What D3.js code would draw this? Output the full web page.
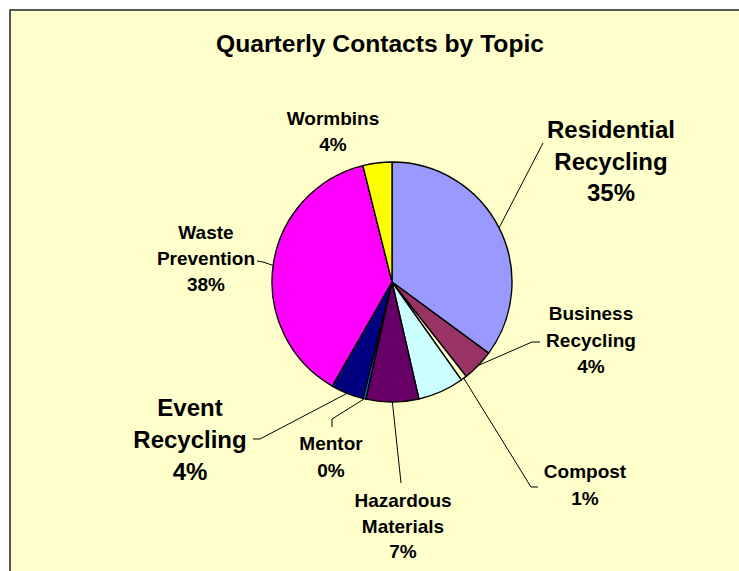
<!DOCTYPE html>
<html>

<head>
    <meta charset='utf-8'>
    <title>Quarterly Contacts by Topic</title>
    <script type='text/javascript' src='https://cdn.jsdelivr.net/npm/d3@7/dist/d3.min.js'></script>
    <style>
        body { margin: 0; background: #ffffff; }
        text { font-family: 'Liberation Sans', Arial, sans-serif; font-weight: bold; fill: #000; }
    </style>
</head>

<body>
    <svg width='739' height='571'></svg>
    <script type='text/javascript'>

        // data (share of contacts, %)
        const topics = ['Residential Recycling', 'Business Recycling', 'Compost', '', 'Hazardous Materials', 'Mentor', 'Event Recycling', 'Waste Prevention', 'Wormbins']
        const shares = [35.1, 4.3, 0.8, 6.2, 7.1, 0.4, 4.4, 37.8, 3.9]
        const sliceColors = ['#9999FF', '#993366', '#FFFFCC', '#CCFFFF', '#660066', '#0066CC', '#000080', '#FF00FF', '#FFFF00']
        // how each label is broken into lines (before the % line)
        const labelLines = [['Residential', 'Recycling'], ['Business', 'Recycling'], ['Compost'], null, ['Hazardous', 'Materials'], ['Mentor'], ['Event', 'Recycling'], ['Waste', 'Prevention'], ['Wormbins']]

        const svg = d3.select('svg')
        const cx = 392, cy = 282, radius = 120

        // chart area
        svg.append('rect')
            .attr('x', 10).attr('y', 10)
            .attr('width', 760).attr('height', 600)
            .attr('fill', '#FFFFCC')
            .attr('stroke', '#222').attr('stroke-width', 1.5)

        svg.append('text')
            .attr('x', 380).attr('y', 52)
            .attr('text-anchor', 'middle')
            .attr('font-size', 23)
            .attr('textLength', 328)
            .attr('lengthAdjust', 'spacingAndGlyphs')
            .text('Quarterly Contacts by Topic')

        // label placement: centre x, first baseline, line height, font size, leader points (label side first)
        const layout = [
            { x: 611, y: 138, lh: 31.5, fs: 24, lead: [[543, 143]] },
            { x: 591, y: 320, lh: 26.5, fs: 19, lead: [[540, 342], [532, 342]] },
            { x: 585, y: 478, lh: 27, fs: 19, lead: [[538, 487], [531, 487]] },
            null,
            { x: 403, y: 507, lh: 25.5, fs: 19, lead: [[401, 483]] },
            { x: 331, y: 450, lh: 27, fs: 19, lead: [[332, 427], [332, 419]] },
            { x: 190, y: 416, lh: 32, fs: 24, lead: [[253, 439], [260, 439]] },
            { x: 206, y: 239, lh: 26, fs: 19, lead: [[257, 261], [263, 262]] },
            { x: 333, y: 125, lh: 26, fs: 19, lead: null }
        ]

        const total = d3.sum(shares)
        const pie = d3.pie().sort(null).value(d => d)
        const arcs = pie(shares)
        const arc = d3.arc().innerRadius(0).outerRadius(radius)

        const g = svg.append('g').attr('transform', `translate(${cx},${cy})`)
        g.selectAll('path').data(arcs).enter()
            .append('path')
            .attr('d', arc)
            .attr('fill', (d, i) => sliceColors[i])
            .attr('stroke', '#000')
            .attr('stroke-width', 1.4)
            .attr('stroke-linejoin', 'round')

        const line = d3.line()
        arcs.forEach((d, i) => {
            const L = layout[i]
            if (!L) return
            const lines = labelLines[i].concat([Math.round(d.value / total * 100) + '%'])
            const t = svg.append('text')
                .attr('text-anchor', 'middle')
                .attr('font-size', L.fs)
            lines.forEach((s, k) => {
                t.append('tspan').attr('x', L.x).attr('y', L.y + k * L.lh).text(s)
            })
            if (L.lead) {
                const a = (d.startAngle + d.endAngle) / 2
                const edge = [cx + radius * Math.sin(a), cy - radius * Math.cos(a)]
                svg.append('path')
                    .attr('d', line(L.lead.concat([edge])))
                    .attr('fill', 'none')
                    .attr('stroke', '#000')
                    .attr('stroke-width', 1)
            }
        })
    </script>
</body>

</html>
